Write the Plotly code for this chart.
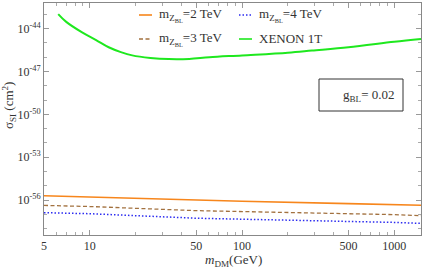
import plotly.graph_objects as go

# data
mdm = [5, 10, 50, 100, 500, 1000, 1500]
sigma_2tev = [2.0e-56, 1.6e-56, 9.2e-57, 8.3e-57, 5.6e-57, 4.9e-57, 4.3e-57]
sigma_3tev = [4.2e-57, 3.5e-57, 1.8e-57, 1.6e-57, 1.1e-57, 0.95e-57, 0.8e-57]
sigma_4tev = [1.3e-57, 1.1e-57, 5.3e-58, 4.6e-58, 3.2e-58, 2.7e-58, 2.3e-58]
xenon_m = [6.2, 7.0, 8.9, 11.0, 13.3, 16.0, 19.0, 25.0, 33.0, 45.0, 61.0, 100.0, 200.0, 288.0, 500.0, 1000.0, 1500.0]
xenon_s = [1.05e-43, 3.0e-44, 5.5e-45, 1.6e-45, 5.0e-46, 2.3e-46, 1.35e-46, 9.0e-47, 7.4e-47, 7.6e-47, 1.0e-46, 1.35e-46, 2.1e-46, 2.95e-46, 5.0e-46, 1.2e-45, 1.9e-45]

ytickvals = [1e-44, 1e-47, 1e-50, 1e-53, 1e-56]
yticktext = ["10<sup>-44</sup>", "10<sup>-47</sup>", "10<sup>-50</sup>", "10<sup>-53</sup>", "10<sup>-56</sup>"]
xtickvals = [5, 10, 50, 100, 500, 1000]
xticktext = ["5", "10", "50", "100", "500", "1000"]

FONT = "Liberation Serif, Times New Roman, serif"
TXT = "#333333"
W, H = 424, 269
ML, MR, MT, MB = 44, 3, 3, 34
PW, PH = W - ML - MR, H - MT - MB


def px(x):
    return (x - ML) / PW


def py(y):
    return (H - MB - y) / PH


fig = go.Figure()

sub = "m<sub>Z<sub>BL</sub></sub>"
series = [
    (sub + "=2 TeV", mdm, sigma_2tev, dict(color="#f7861c", width=1.6)),
    (sub + "=4 TeV", mdm, sigma_4tev, dict(color="#2b2bf0", width=1.5, dash="1.5px,2px")),
    (sub + "=3 TeV", mdm, sigma_3tev, dict(color="#a2713f", width=1.3, dash="4px,2.5px")),
    ("XENON 1T", xenon_m, xenon_s, dict(color="#1ee81e", width=2, shape="spline")),
]
for name, xs, ys, ln in series:
    fig.add_trace(go.Scatter(x=xs, y=ys, mode="lines", name=name, line=ln, showlegend=False,
                             hoverinfo="skip"))

# manual legend (2 x 2)
leg_pos = [(139, 15), (239, 15), (139, 39), (239, 39)]
for (name, xs, ys, ln), (lx, ly) in zip(series, leg_pos):
    fig.add_shape(type="line", xref="paper", yref="paper",
                  x0=px(lx), x1=px(lx + 13), y0=py(ly), y1=py(ly),
                  line=dict(color=ln["color"], width=min(ln["width"], 1.6),
                            dash=ln.get("dash", "solid")))
    fig.add_annotation(text=name, xref="paper", yref="paper", x=px(lx + 18), y=py(ly),
                       xanchor="left", yanchor="middle", showarrow=False,
                       font=dict(size=13, family=FONT, color=TXT))

xminor = [6, 7, 8, 9, 20, 30, 40, 60, 70, 80, 90, 200, 300, 400, 600, 700, 800, 900]
yminor = [10 ** (-k) for k in range(43, 59)]

fig.update_layout(
    width=W, height=H,
    margin=dict(l=ML, r=MR, t=MT, b=MB),
    paper_bgcolor="white", plot_bgcolor="white",
    font=dict(family=FONT, size=12, color=TXT),
    showlegend=False,
    hovermode=False,
    xaxis=dict(type="log", range=[0.699, 3.176], tickvals=xtickvals, ticktext=xticktext,
               ticks="inside", ticklen=5, tickcolor="#999999", showline=True, linecolor="#888888",
               mirror="ticks", showgrid=False, zeroline=False,
               tickfont=dict(size=12, family=FONT, color=TXT),
               minor=dict(tickvals=xminor, ticks="inside", ticklen=3, tickcolor="#aaaaaa")),
    yaxis=dict(type="log", range=[-58.45, -42.2], tickvals=ytickvals, ticktext=yticktext,
               ticks="inside", ticklen=5, tickcolor="#999999", showline=True, linecolor="#888888",
               mirror="ticks", showgrid=False, zeroline=False,
               tickfont=dict(size=12, family=FONT, color=TXT),
               minor=dict(tickvals=yminor, ticks="inside", ticklen=3, tickcolor="#aaaaaa")),
)

fig.add_annotation(text="σ<sub>SI</sub> (cm<sup>2</sup>)", xref="paper", yref="paper",
                   x=px(9), y=py(106), textangle=-90, showarrow=False,
                   font=dict(size=13, family=FONT, color=TXT), xanchor="center", yanchor="middle")
fig.add_annotation(text="<i>m</i><sub>DM</sub>(GeV)", xref="paper", yref="paper",
                   x=px(233), y=py(260), showarrow=False, xanchor="center", yanchor="middle",
                   font=dict(size=13, family=FONT, color=TXT))
fig.add_shape(type="rect", xref="paper", yref="paper",
              x0=px(319), x1=px(403), y0=py(111), y1=py(79),
              line=dict(color="#333333", width=1), fillcolor="white", layer="above")
fig.add_annotation(text="g<sub>BL</sub>= 0.02", xref="paper", yref="paper",
                   x=px(396), y=py(95), showarrow=False, xanchor="right", yanchor="middle",
                   font=dict(size=13, family=FONT, color=TXT))

fig.write_html("out.html", config={"displayModeBar": False},
               post_script="document.body.style.margin='0';document.body.style.overflow='hidden';")
